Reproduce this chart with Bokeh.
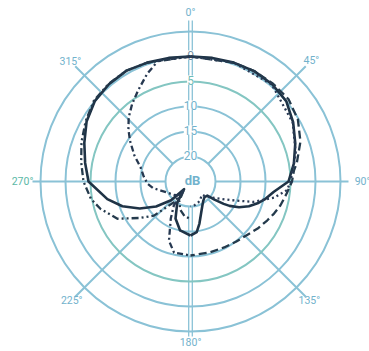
import numpy as np
from bokeh.plotting import figure
from bokeh.models import Range1d
from bokeh.embed import file_html
from bokeh.resources import INLINE
from bokeh.core.properties import value

# ---------------- data ----------------
ring_db = [20, 15, 10, 5, 0, -5]
ring_labels = ["20", "15", "10", "5", "0"]
angle_ticks = [0, 45, 90, 135, 180, 225, 270, 315]
angle_labels = ["0°", "45°", "90°", "135°", "180°", "225°", "270°", "315°"]

# right half (clockwise angle from front, degrees) : attenuation in dB
solid_r_deg = [0, 10, 20, 30, 40, 50, 60, 70, 80, 90, 97, 103, 108, 113, 118, 122, 124, 127, 130, 138, 146, 154, 162, 168, 173, 180]
solid_r_db = [0, -0.1, -0.3, -0.5, -0.4, 0, 1.3, 2.7, 4.0, 5.4, 8.2, 9.6, 10.9, 12.3, 14.0, 15.8, 17.0, 19.0, 20.6, 20.8, 20.4, 19.6, 18.2, 16.4, 14.8, 14.2]

dashed_deg = [0, 20, 30, 40, 50, 60, 70, 80, 84, 90, 97, 105, 111, 117, 125, 133, 143, 153, 165, 180]
dashed_db = [0, -0.3, -0.5, -0.6, -0.6, 0.2, 1.6, 3.4, 4.2, 4.7, 5.6, 6.4, 7.1, 7.8, 8.6, 9.4, 9.9, 10.2, 10.3, 10.2]

dotted_deg = [0, 20, 40, 60, 75, 90, 95, 101, 108, 115, 122, 128, 133, 140, 150, 160, 170, 180]
dotted_db = [0, -0.3, -0.3, 1.4, 3.2, 5.0, 5.6, 8.0, 11.8, 16.2, 18.6, 19.8, 20.6, 21.5, 21.0, 20.5, 20.2, 20.0]

# left half (counter-clockwise angle from front, degrees) : attenuation in dB
solid_l_deg = [0, 10, 20, 30, 40, 50, 60, 70, 80, 90, 102, 110, 118, 126, 134, 140, 148, 158, 168, 180]
solid_l_db = [0, -0.1, -0.3, -0.6, -0.4, 0, 1.0, 2.4, 3.6, 4.6, 8.0, 10.5, 13.5, 16.5, 19.6, 23.0, 20.0, 17.0, 15.0, 14.2]

dashdot2_deg = [0, 20, 30, 40, 50, 60, 70, 80, 90, 100, 107, 117, 126, 133, 141, 144, 150, 160, 170, 180]
dashdot2_db = [0, -0.3, -0.6, -0.5, -0.2, 0.8, 1.8, 2.8, 3.6, 4.8, 6.2, 8.6, 12.6, 15.0, 19.6, 22.5, 20.5, 19.0, 18.0, 17.5]

dashdot_deg = [0, 15, 22, 30, 37, 44, 50, 56, 65, 74, 84, 93, 100, 107, 115, 123, 130, 137, 141, 145, 152, 160, 167, 180]
dashdot_db = [0, 0, 1.8, 4.0, 5.6, 7.2, 8.8, 10.4, 12.6, 14.6, 15.6, 16.4, 17.4, 18.8, 19.8, 20.4, 20.8, 21.2, 23.0, 19.2, 16.6, 12.4, 10.4, 10.2]

# ---------------- scale ----------------
FLOOR_DB = 25      # centre of the chart
PX_PER_DB = 5.0


def radius(db):
    return (FLOOR_DB - np.asarray(db, dtype=float)) * PX_PER_DB


def to_xy(theta_deg, r):
    th = np.radians(np.asarray(theta_deg, dtype=float))
    r = np.asarray(r, dtype=float)
    return r * np.sin(th), r * np.cos(th)


p = figure(width=369, height=351, x_range=Range1d(-190, 179), y_range=Range1d(-170, 181),
           output_backend="svg", toolbar_location=None, min_border=0,
           x_axis_location=None, y_axis_location=None)
p.grid.visible = False
p.outline_line_color = None
p.background_fill_color = "white"
p.border_fill_color = "white"

GRID = "#8ac2d6"
TEAL = "#84c6c2"
ring_colors = [GRID, GRID, GRID, TEAL, GRID, GRID]

inner_r = radius(ring_db[0])
outer_r = radius(ring_db[-1])

# spokes
for a in angle_ticks:
    if a in (0, 180):
        continue
    ext = 158 if a in (90, 270) else 163
    xs, ys = to_xy([a, a], [inner_r, ext])
    p.line(xs, ys, line_color=GRID, line_width=2)

# double vertical line
for off in (-1.8, 1.8):
    for a, ext in ((0, 161), (180, 155)):
        xs, ys = to_xy([a, a], [inner_r, ext])
        p.line(xs + off, ys, line_color=GRID, line_width=1.3)

# rings
for db, col in zip(ring_db, ring_colors):
    p.circle(x=0, y=0, radius=float(radius(db)), fill_color=None, line_color=col, line_width=2)

# ring labels on the vertical axis
lab_r = radius(ring_db[:5])
lx, ly = to_xy([0] * 5, lab_r)
lab_colors = ["#72b2cc", "#72b2cc", "#72b2cc", "#6fbcb6", "#6f8fa3"]
p.text(x=list(lx), y=list(ly + 1.5), text=ring_labels, text_align="center", text_baseline="middle",
       text_font=value("Roboto"), text_font_size="12px", text_color=lab_colors,
       background_fill_color="white")
p.text(x=[2], y=[1], text=["dB"], text_align="center", text_baseline="middle",
       text_font=value("Roboto"), text_font_size="13px", text_color="#72b2cc", text_font_style="bold")

# angle labels
ax_, ay_ = to_xy(angle_ticks, [169, 171, 172, 168, 161, 168, 168, 170])
ang_colors = ["#72b2cc", "#72b2cc", "#72b2cc", "#72b2cc", "#72b2cc", "#72b2cc", "#5bb8a6", "#72b2cc"]
p.text(x=list(ax_), y=list(ay_), text=angle_labels, text_align="center", text_baseline="middle",
       text_font=value("Roboto"), text_font_size="10.5px", text_color=ang_colors)

# curves
curves = [
    (solid_r_deg, solid_r_db, +1, "solid", "#1f3346", 2.6),
    (solid_l_deg, solid_l_db, -1, "solid", "#1f3346", 2.6),
    (dashed_deg, dashed_db, +1, "8 4", "#243a4c", 2.3),
    (dotted_deg, dotted_db, +1, "2 3", "#2a3a55", 2.3),
    (dashdot2_deg, dashdot2_db, -1, "7 3 2 3 2 3", "#243a4c", 2.3),
    (dashdot_deg, dashdot_db, -1, "6 3 2 3", "#263850", 2.3),
]
for deg, db, side, dash, col, w in curves:
    xs, ys = to_xy(np.asarray(deg) * side, radius(db))
    p.line(xs, ys, line_color=col, line_width=w, line_dash=dash, line_join="round")

open("out.html", "w").write(file_html(p, INLINE))
